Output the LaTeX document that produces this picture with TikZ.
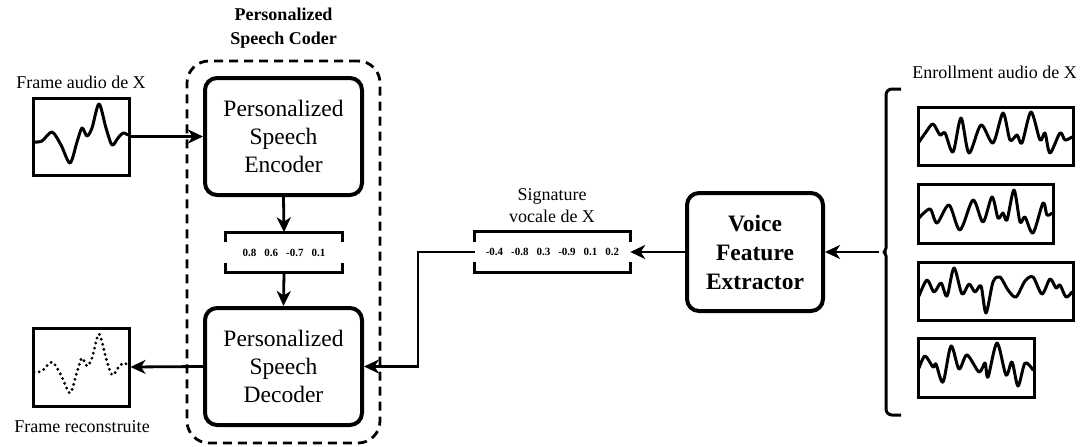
\documentclass[tikz,border=0pt]{standalone}
\usepackage{fontspec}
\setmainfont{Liberation Serif}
\usetikzlibrary{arrows.meta}
\newcommand\vgap{\hspace{8pt}}
\begin{document}
\begin{tikzpicture}[x=1pt,y=-1pt,
  block/.style={draw, line width=4pt, rounded corners=12pt, minimum width=157pt,
    minimum height=117pt, align=center, inner sep=0pt,
    font=\fontsize{23.5}{28}\selectfont},
  vfeblock/.style={block, minimum width=136pt, minimum height=118pt,
    font=\fontsize{23.5}{29}\selectfont\bfseries},
  coder/.style={draw, line width=2.8pt, dash pattern=on 9pt off 6pt,
    rounded corners=22pt, minimum width=193pt, minimum height=382pt, inner sep=0pt},
  wavebox/.style={draw, line width=3pt, inner sep=0pt},
  wave/.style={line width=3pt, line cap=round, line join=round},
  dotwave/.style={line width=3.2pt, line cap=round, dash pattern=on 0pt off 5.2pt},
  vec/.style={inner sep=0pt, minimum height=40pt, font=\fontsize{11}{13}\selectfont\bfseries},
  bracketline/.style={line width=3pt},
  label/.style={inner sep=0pt, align=center, font=\fontsize{18}{22}\selectfont},
  arr/.style={line width=2.8pt, -{Stealth[length=15pt,width=14pt,inset=4.5pt]}}
]
\useasboundingbox (0,0) rectangle (1087,447);

% heading of the coder group
\node[label, font=\fontsize{18}{24}\selectfont\bfseries] (coderhead) at (283.5,28)
  {Personalized\\Speech Coder};
\node[coder] (coder) at (283.5,252) {};

% encoder / decoder
\node[block] (enc) at (283.5,136.5) {Personalized\\Speech\\Encoder};
\node[block] (dec) at (283.5,366.5) {Personalized\\Speech\\Decoder};

% latent code
\node[vec, minimum width=116pt] (lat) at (284,252.5)
  {0.8\vgap 0.6\vgap -0.7\vgap 0.1};
\draw[bracketline] ([yshift=-10pt]lat.north west) -- (lat.north west)
  -- (lat.north east) -- ([yshift=-10pt]lat.north east);
\draw[bracketline] ([yshift=10pt]lat.south west) -- (lat.south west)
  -- (lat.south east) -- ([yshift=10pt]lat.south east);

% input frame
\node[label] (srclab) at (81,82) {Frame audio de X};
\node[wavebox, minimum width=96pt, minimum height=77pt] (src) at (81,136.5) {};
\draw[wave] plot[smooth] coordinates {(34,142) (42,141) (52,132) (61,145) (70,163)
  (77,142) (82,128) (87,136) (92,128) (99,104) (106,128) (112,145) (118,138)
  (123,133) (128,135)};

% reconstructed frame
\node[wavebox, minimum width=96pt, minimum height=78pt] (rec) at (81,367) {};
\draw[dotwave] plot[smooth] coordinates {(34,372) (42,371) (52,362) (61,375) (70,393)
  (77,372) (82,358) (87,366) (92,358) (99,334) (106,358) (112,375) (118,368)
  (123,363) (128,365)};
\node[label] (reclab) at (82,427) {Frame reconstruite};

% voice signature
\node[label] (siglab) at (552,206) {Signature\\vocale de X};
\node[vec, minimum width=155pt] (sig) at (552.5,252)
  {-0.4\vgap -0.8\vgap 0.3\vgap -0.9\vgap 0.1\vgap 0.2};
\draw[bracketline] ([yshift=-10pt]sig.north west) -- (sig.north west)
  -- (sig.north east) -- ([yshift=-10pt]sig.north east);
\draw[bracketline] ([yshift=10pt]sig.south west) -- (sig.south west)
  -- (sig.south east) -- ([yshift=10pt]sig.south east);

% feature extractor
\node[vfeblock] (vfe) at (755,252) {Voice\\Feature\\Extractor};

% enrollment recordings
\node[label] (enrlab) at (994.5,72) {Enrollment audio de X};
\node[wavebox, minimum width=155pt, minimum height=58pt] (e1) at (995.5,136) {};
\draw[wave] plot[smooth] coordinates {(919,142) (926,132) (933,124) (940,135) (945,133)
  (953,152) (961,118) (969,153) (981,125) (993,143) (1003,113) (1010,140) (1017,135)
  (1022,143) (1031,112) (1040,140) (1045,133) (1050,153) (1060,133) (1065,140) (1072,137)};
\node[wavebox, minimum width=135pt, minimum height=59pt] (e2) at (985.5,213.5) {};
\draw[wave] plot[smooth] coordinates {(919,218) (930,209) (937,223) (949,205) (960,230)
  (973,200) (983,222) (992,197) (998,218) (1003,213) (1007,220) (1014,190) (1020,222)
  (1025,217) (1033,233) (1043,203) (1047,215) (1052,213)};
\node[wavebox, minimum width=155pt, minimum height=58pt] (e3) at (995.5,291) {};
\draw[wave] plot[smooth] coordinates {(919,296) (927,280) (934,292) (941,283) (947,296)
  (954,268) (962,294) (969,284) (975,292) (981,286) (986,313) (993,282) (1000,277)
  (1008,290) (1016,297) (1025,281) (1033,277) (1042,294) (1050,279) (1056,288)
  (1060,285) (1066,297) (1072,292)};
\node[wavebox, minimum width=116pt, minimum height=59pt] (e4) at (976,367.5) {};
\draw[wave] plot[smooth] coordinates {(919,368) (925,356) (933,367) (936,364) (943,382)
  (951,346) (959,369) (967,355) (979,372) (985,363) (988,377) (997,343) (1006,375)
  (1012,362) (1018,386) (1025,363) (1033,370)};

% curly brace grouping the recordings
\coordinate (tip) at (879,252);
\draw[bracketline, rounded corners=6pt] (901,89) -- (886,89) -- (886,242)
  .. controls (886,249) and (884,252) .. (tip)
  .. controls (884,252) and (886,255) .. (886,262) -- (886,415) -- (901,415);

% connectors
\draw[arr] (src.east) -- (src.east -| enc.west);
\draw[arr] (enc.south) -- (lat.north);
\draw[arr] (lat.south) -- (dec.north);
\draw[arr] (dec.west) -- (rec.east);
\draw[arr] (tip) -- (vfe.east);
\draw[arr] (vfe.west) -- (sig.east);
\coordinate (bend) at (418,252);
\draw[arr] (sig.west) -- (bend) |- (dec.east);
\end{tikzpicture}
\end{document}
